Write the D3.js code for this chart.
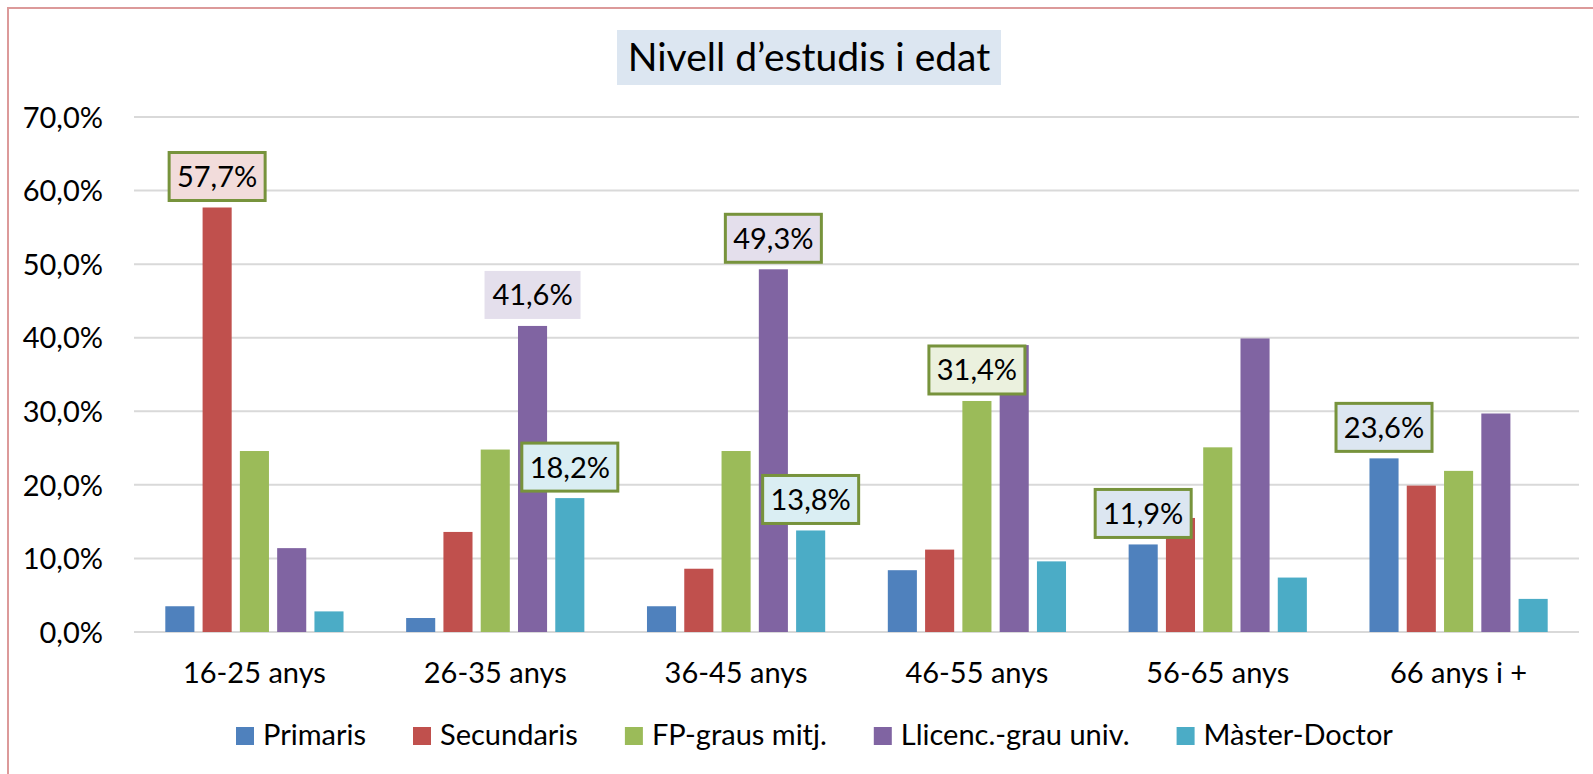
<!DOCTYPE html>
<html>
<head>
<meta charset="utf-8">
<script src="https://cdn.jsdelivr.net/npm/d3@7"></script>
<style>
  body { margin: 0; background: #fff; }
  text { font-family: "Lato", "Open Sans", sans-serif; fill: #000; }
</style>
</head>
<body>
<div id="chart"></div>
<script>
// Data
const categories = ["16-25 anys", "26-35 anys", "36-45 anys", "46-55 anys", "56-65 anys", "66 anys i +"];
const seriesNames = ["Primaris", "Secundaris", "FP-graus mitj.", "Llicenc.-grau univ.", "Màster-Doctor"];
const primaris    = [3.5, 1.9, 3.5, 8.4, 11.9, 23.6];
const secundaris  = [57.7, 13.6, 8.6, 11.2, 15.5, 19.9];
const fpGraus     = [24.6, 24.8, 24.6, 31.4, 25.1, 21.9];
const llicenc     = [11.4, 41.6, 49.3, 39.0, 39.9, 29.7];
const masterDoc   = [2.8, 18.2, 13.8, 9.6, 7.4, 4.5];
const yTicks = [0, 10, 20, 30, 40, 50, 60, 70];
const colors = ["#4f81bd", "#c0504d", "#9bbb59", "#8064a2", "#4bacc6"];

// Highlighted data labels: [category index, series index, box fill, has border]
const callouts = [
    [0, 1, "#f2dcdb", true],
    [1, 3, "#e4dfec", false],
    [1, 4, "#daeef3", true],
    [2, 3, "#e4dfec", true],
    [2, 4, "#daeef3", true],
    [3, 2, "#ebf1de", true],
    [4, 0, "#dce6f1", true],
    [5, 0, "#dce6f1", true]
];

const allSeries = [primaris, secundaris, fpGraus, llicenc, masterDoc];
const fmt = v => v.toFixed(1).replace(".", ",") + "%";

const W = 1593, H = 774;
const margin = {top: 117, right: 14, bottom: 142, left: 134},
    width = W - margin.left - margin.right,
    height = H - margin.top - margin.bottom;

const root = d3.select("#chart")
    .append("svg")
    .attr("width", W)
    .attr("height", H);

// Outer chart border (pinkish)
root.append("rect")
    .attr("x", 8).attr("y", 8)
    .attr("width", 1606).attr("height", 820)
    .attr("fill", "none")
    .attr("stroke", "#dc9a9a")
    .attr("stroke-width", 2);

// Title
const titleG = root.append("g");
titleG.append("rect")
    .attr("x", 617).attr("y", 30)
    .attr("width", 384).attr("height", 55)
    .attr("fill", "#dce6f1");
titleG.append("text")
    .attr("x", 809).attr("y", 71)
    .attr("text-anchor", "middle")
    .style("font-size", "39px")
    .text("Nivell d’estudis i edat");

const svg = root.append("g")
    .attr("transform", `translate(${margin.left},${margin.top})`);

// Scales
const x0 = d3.scaleBand()
    .domain(categories)
    .range([0, width])
    .paddingInner(0.26)
    .paddingOuter(0.13);

const x1 = d3.scaleBand()
    .domain(d3.range(seriesNames.length))
    .range([0, x0.bandwidth()])
    .paddingInner(0.22);

const yScale = d3.scaleLinear()
    .domain([0, 70])
    .range([height, 0]);

// Gridlines
svg.append("g")
    .selectAll("line")
    .data(yTicks)
    .enter().append("line")
    .attr("x1", 0).attr("x2", width)
    .attr("y1", d => yScale(d)).attr("y2", d => yScale(d))
    .attr("stroke", "#d9d9d9")
    .attr("stroke-width", 2);

// Y axis labels
const yAxis = svg.append("g")
    .attr("transform", "translate(-28,0)")
    .call(d3.axisLeft(yScale).tickValues(yTicks).tickSize(0).tickFormat(fmt));
yAxis.select(".domain").remove();
yAxis.selectAll("text").style("font-size", "29px").attr("dy", "0.35em");

// X axis labels
const xAxis = svg.append("g")
    .attr("transform", `translate(0,${height})`)
    .call(d3.axisBottom(x0).tickSize(0));
xAxis.select(".domain").remove();
xAxis.selectAll("text").style("font-size", "29px").attr("y", 51).attr("dy", 0);

// Bars
const groups = svg.selectAll(".grp")
    .data(categories)
    .enter().append("g")
    .attr("class", "grp")
    .attr("transform", d => `translate(${x0(d)},0)`);

groups.selectAll("rect")
    .data((d, i) => allSeries.map((s, j) => ({j, v: s[i]})))
    .enter().append("rect")
    .attr("x", d => x1(d.j))
    .attr("width", x1.bandwidth())
    .attr("y", d => yScale(d.v))
    .attr("height", d => yScale(0) - yScale(d.v))
    .attr("fill", d => colors[d.j]);

// Callout labels
const boxW = 96, boxH = 48;
callouts.forEach(([ci, si, fill, border]) => {
    const v = allSeries[si][ci];
    const cx = x0(categories[ci]) + x1(si) + x1.bandwidth() / 2;
    const bottom = yScale(v) - 7;
    svg.append("rect")
        .attr("x", cx - boxW / 2)
        .attr("y", bottom - boxH)
        .attr("width", boxW)
        .attr("height", boxH)
        .attr("fill", fill)
        .attr("stroke", border ? "#77933c" : "none")
        .attr("stroke-width", 3);
    svg.append("text")
        .attr("x", cx)
        .attr("y", bottom - boxH / 2)
        .attr("dy", "0.36em")
        .attr("text-anchor", "middle")
        .style("font-size", "29px")
        .text(fmt(v));
});

// Legend
const legend = root.append("g")
    .attr("transform", "translate(236,727)");
let lx = 0;
seriesNames.forEach((name, i) => {
    const item = legend.append("g").attr("transform", `translate(${lx},0)`);
    item.append("rect")
        .attr("width", 18).attr("height", 18)
        .attr("fill", colors[i]);
    const t = item.append("text")
        .attr("x", 27).attr("y", 18)
        .style("font-size", "29px")
        .text(name);
    lx += 27 + t.node().getComputedTextLength() + 47;
});
</script>
</body>
</html>
